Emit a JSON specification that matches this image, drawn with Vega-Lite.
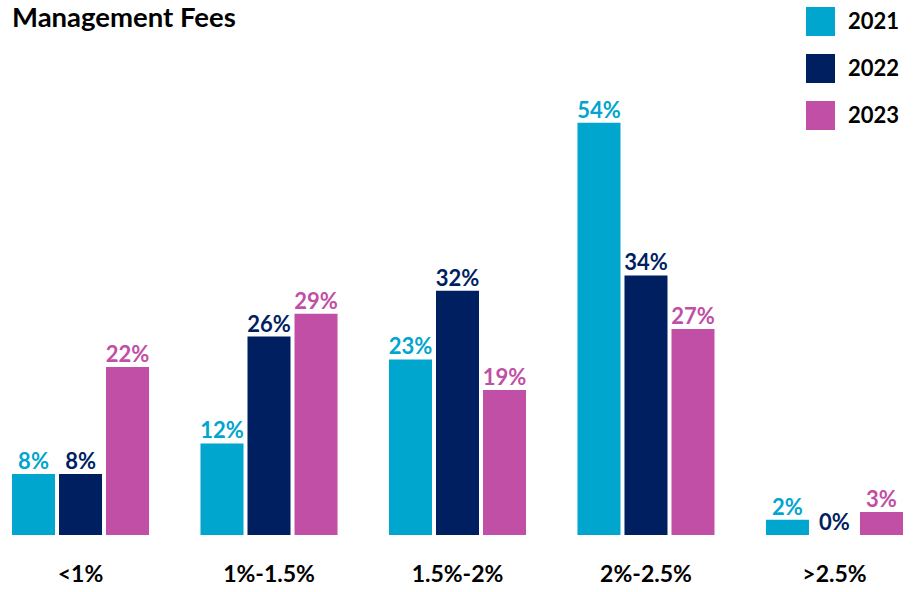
{
  "$schema": "https://vega.github.io/schema/vega-lite/v6.json",
  "width": 891,
  "height": 458,
  "autosize": {"type": "none"},
  "padding": {"left": 12, "top": 77, "right": 12, "bottom": 57},
  "background": "white",
  "title": {
    "text": "Management Fees",
    "anchor": "start",
    "orient": "top",
    "offset": -25,
    "font": "Lato",
    "fontSize": 27.5,
    "fontWeight": "bold",
    "color": "#000000"
  },
  "data": {
    "values": [
      {"range": "<1%", "year": "2021", "value": 0.08},
      {"range": "<1%", "year": "2022", "value": 0.08},
      {"range": "<1%", "year": "2023", "value": 0.22},
      {"range": "1%-1.5%", "year": "2021", "value": 0.12},
      {"range": "1%-1.5%", "year": "2022", "value": 0.26},
      {"range": "1%-1.5%", "year": "2023", "value": 0.29},
      {"range": "1.5%-2%", "year": "2021", "value": 0.23},
      {"range": "1.5%-2%", "year": "2022", "value": 0.32},
      {"range": "1.5%-2%", "year": "2023", "value": 0.19},
      {"range": "2%-2.5%", "year": "2021", "value": 0.54},
      {"range": "2%-2.5%", "year": "2022", "value": 0.34},
      {"range": "2%-2.5%", "year": "2023", "value": 0.27},
      {"range": ">2.5%", "year": "2021", "value": 0.02},
      {"range": ">2.5%", "year": "2022", "value": 0.0},
      {"range": ">2.5%", "year": "2023", "value": 0.03}
    ]
  },
  "encoding": {
    "x": {
      "field": "range",
      "type": "nominal",
      "sort": ["<1%", "1%-1.5%", "1.5%-2%", "2%-2.5%", ">2.5%"],
      "scale": {"paddingInner": 0.273, "paddingOuter": 0},
      "axis": {
        "title": null,
        "labelAngle": 0,
        "domain": false,
        "ticks": false,
        "labelPadding": 28,
        "labelFont": "Lato",
        "labelFontSize": 23,
        "labelFontWeight": "bold",
        "labelColor": "#000000"
      }
    },
    "xOffset": {
      "field": "year",
      "type": "nominal",
      "sort": ["2021", "2022", "2023"],
      "scale": {"paddingInner": 0.085, "paddingOuter": 0}
    },
    "y": {
      "field": "value",
      "type": "quantitative",
      "scale": {"domain": [0, 0.6]},
      "axis": null
    }
  },
  "layer": [
    {
      "mark": {"type": "bar"},
      "encoding": {
        "color": {
          "field": "year",
          "type": "nominal",
          "sort": ["2021", "2022", "2023"],
          "scale": {
            "domain": ["2021", "2022", "2023"],
            "range": ["#00A6CE", "#001F60", "#C04FA5"]
          },
          "legend": {
            "title": null,
            "orient": "none",
            "legendX": 794,
            "legendY": -70,
            "symbolType": "square",
            "symbolSize": 841,
            "symbolStrokeWidth": 0,
            "symbolOpacity": 1,
            "labelFont": "Lato",
            "labelFontSize": 22,
            "labelFontWeight": "bold",
            "labelColor": "#000000",
            "labelOffset": 13,
            "rowPadding": 18,
            "padding": 0
          }
        }
      }
    },
    {
      "mark": {
        "type": "text",
        "baseline": "alphabetic",
        "dy": -5,
        "font": "Lato",
        "fontSize": 22,
        "fontWeight": "bold"
      },
      "encoding": {
        "text": {"field": "value", "type": "quantitative", "format": ".0%"},
        "color": {
          "field": "year",
          "type": "nominal",
          "sort": ["2021", "2022", "2023"],
          "scale": {
            "domain": ["2021", "2022", "2023"],
            "range": ["#00A6CE", "#001F60", "#C04FA5"]
          },
          "legend": null
        }
      }
    }
  ],
  "config": {
    "view": {"stroke": null}
  }
}
